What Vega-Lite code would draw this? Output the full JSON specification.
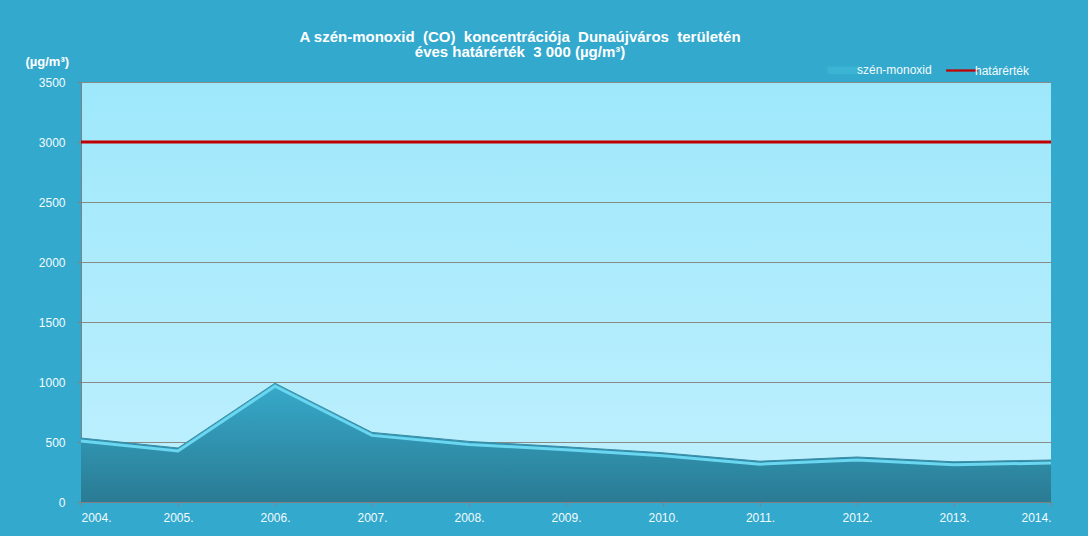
{
  "$schema": "https://vega.github.io/schema/vega-lite/v6.json",
  "width": 970,
  "height": 420,
  "autosize": {"type": "none"},
  "padding": {"left": 81, "top": 82, "right": 37, "bottom": 34},
  "background": "#33a9cd",
  "datasets": {
    "co": [
      {"year": "2004.", "value": 533, "series": "szén-monoxid"},
      {"year": "2005.", "value": 450, "series": "szén-monoxid"},
      {"year": "2006.", "value": 990, "series": "szén-monoxid"},
      {"year": "2007.", "value": 580, "series": "szén-monoxid"},
      {"year": "2008.", "value": 505, "series": "szén-monoxid"},
      {"year": "2009.", "value": 460, "series": "szén-monoxid"},
      {"year": "2010.", "value": 410, "series": "szén-monoxid"},
      {"year": "2011.", "value": 340, "series": "szén-monoxid"},
      {"year": "2012.", "value": 375, "series": "szén-monoxid"},
      {"year": "2013.", "value": 335, "series": "szén-monoxid"},
      {"year": "2014.", "value": 350, "series": "szén-monoxid"}
    ],
    "limit": [
      {"value": 3000, "series": "határérték"}
    ]
  },
  "title": {
    "text": "A szén-monoxid\u00a0 (CO)\u00a0 koncentrációja\u00a0 Dunaújváros\u00a0 területén",
    "subtitle": "éves határérték\u00a0 3 000 (µg/m³)",
    "anchor": "middle",
    "frame": "group",
    "dx": -46,
    "offset": -5,
    "font": "Liberation Sans",
    "fontSize": 15,
    "fontWeight": "bold",
    "color": "#ffffff",
    "subtitleFont": "Liberation Sans",
    "subtitleFontSize": 15,
    "subtitleFontWeight": "bold",
    "subtitleColor": "#ffffff",
    "subtitlePadding": 0
  },
  "config": {
    "view": {
      "stroke": null,
      "fill": {
        "gradient": "linear",
        "x1": 0, "y1": 0, "x2": 0, "y2": 1,
        "stops": [
          {"offset": 0, "color": "#9ee8fb"},
          {"offset": 1, "color": "#bff0fe"}
        ]
      }
    },
    "font": "Liberation Sans",
    "axis": {
      "labelFont": "Liberation Sans",
      "labelFontSize": 12,
      "labelColor": "#f2fbff",
      "domainColor": "#808080",
      "tickColor": "#808080",
      "gridColor": "#8a8a8a",
      "gridWidth": 1
    }
  },
  "encoding": {
    "x": {
      "field": "year",
      "type": "ordinal",
      "scale": {"type": "point", "padding": 0},
      "axis": {
        "title": null,
        "labelAngle": 0,
        "labelFlush": true,
        "labelPadding": 6,
        "tickSize": 4,
        "grid": false
      }
    }
  },
  "layer": [
    {
      "data": {"name": "co"},
      "mark": {
        "type": "area",
        "fill": {
          "gradient": "linear",
          "x1": 0, "y1": 0, "x2": 0, "y2": 1,
          "stops": [
            {"offset": 0, "color": "#37aacb"},
            {"offset": 1, "color": "#2a7b93"}
          ]
        },
        "fillOpacity": 1
      },
      "encoding": {
        "y": {
          "field": "value",
          "type": "quantitative",
          "scale": {"domain": [0, 3500]},
          "axis": {
            "values": [0, 500, 1000, 1500, 2000, 2500, 3000, 3500],
            "format": "d",
            "title": "(µg/m³)",
            "titleAngle": 0,
            "titleAlign": "left",
            "titleBaseline": "bottom",
            "titleX": -56,
            "titleY": -14,
            "titleFont": "Liberation Sans",
            "titleFontSize": 13,
            "titleFontWeight": "bold",
            "titleColor": "#ffffff",
            "labelPadding": 12,
            "tickSize": 4,
            "grid": true
          }
        },
        "color": {
          "field": "series",
          "type": "nominal",
          "scale": {
            "domain": ["szén-monoxid", "határérték"],
            "range": ["#3bb4d4", "#c00000"]
          },
          "legend": {
            "title": null,
            "orient": "none",
            "direction": "horizontal",
            "legendX": 757,
            "legendY": -18,
            "labelFont": "Liberation Sans",
            "labelFontSize": 12,
            "labelColor": "#f2fbff",
            "symbolSize": 2048,
            "symbolStrokeWidth": 0,
            "symbolOpacity": 1,
            "columnPadding": 14,
            "labelOffset": 7,
            "encode": {
              "symbols": {
                "update": {
                  "size": {"value": 2048},
                  "shape": {"signal": "datum.value === 'határérték' ? 'M-0.7,-0.05H0.7V0.05H-0.7Z' : 'M-0.7,-0.14H0.7V0.14H-0.7Z'"},
                  "fill": {"signal": "datum.value === 'határérték' ? '#b0282c' : '#5ccbe8'"},
                  "stroke": {"signal": "datum.value === 'határérték' ? '#b0282c' : '#1f6f88'"},
                  "strokeWidth": {"signal": "datum.value === 'határérték' ? 0 : 1.5"},
                  "opacity": {"value": 1}
                }
              }
            }
          }
        }
      }
    },
    {
      "data": {"name": "co"},
      "mark": {"type": "line", "color": "#6ad6f0", "strokeWidth": 3, "yOffset": 3},
      "encoding": {"y": {"field": "value", "type": "quantitative"}}
    },
    {
      "data": {"name": "co"},
      "mark": {"type": "line", "color": "#3c8ea6", "strokeWidth": 1},
      "encoding": {"y": {"field": "value", "type": "quantitative"}}
    },
    {
      "data": {"name": "limit"},
      "mark": {"type": "rule", "strokeWidth": 3},
      "encoding": {
        "x": null,
        "y": {"field": "value", "type": "quantitative"},
        "color": {"field": "series", "type": "nominal"}
      }
    }
  ]
}
